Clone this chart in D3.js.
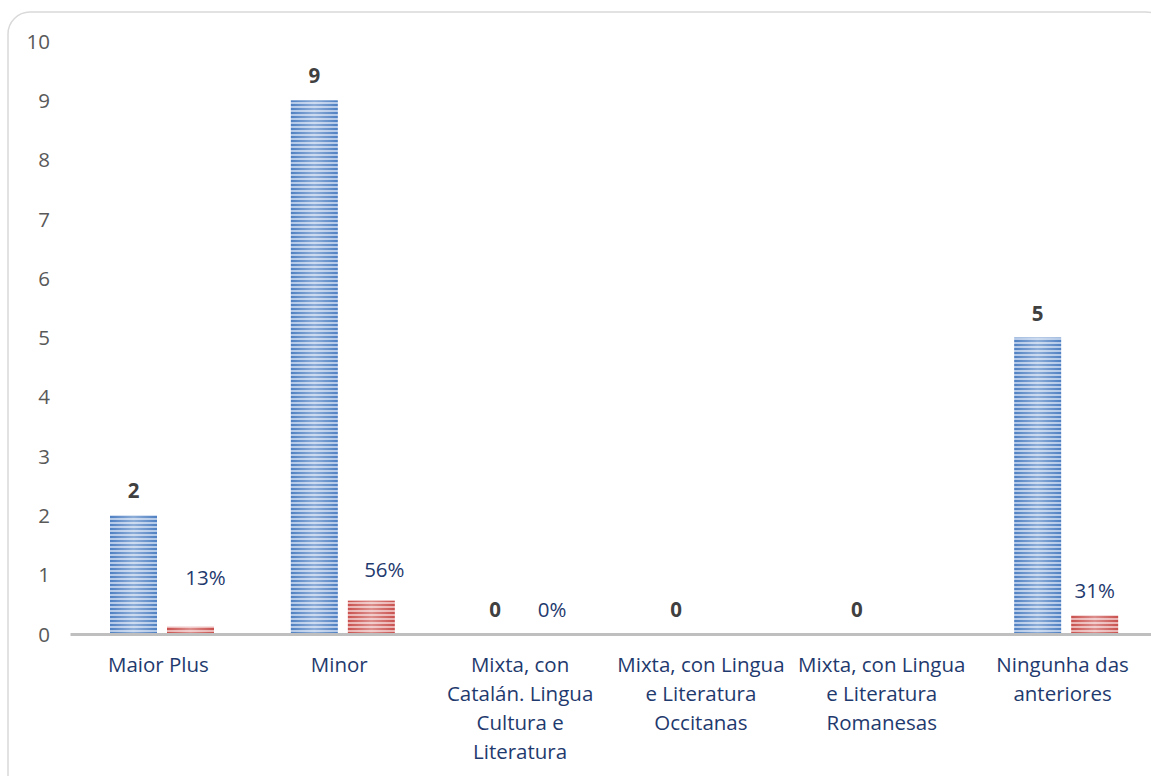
<!DOCTYPE html>
<html><head><meta charset="utf-8">
<script src="https://cdn.jsdelivr.net/npm/d3@7"></script>
<style>body{margin:0;background:#fff}svg{display:block}</style>
</head><body><svg id="c" width="1151" height="776"></svg>
<script>
const categories = [
  ["Maior Plus"],
  ["Minor"],
  ["Mixta, con", "Catalán. Lingua", "Cultura e", "Literatura"],
  ["Mixta, con Lingua", "e Literatura", "Occitanas"],
  ["Mixta, con Lingua", "e Literatura", "Romanesas"],
  ["Ningunha das", "anteriores"]
];
const counts = [2, 9, 0, 0, 0, 5];
const shares = [0.125, 0.5625, 0, null, null, 0.3125];
const shareLabels = ["13%", "56%", "0%", null, null, "31%"];
const yTicks = [0,1,2,3,4,5,6,7,8,9,10];

const svg = d3.select("#c");
const font = "'Open Sans', 'Noto Sans', sans-serif";
const fs = 20.5;

// frame
svg.append("rect").attr("x", 8).attr("y", 12).attr("width", 1160).attr("height", 800)
  .attr("rx", 22).attr("fill", "#fff").attr("stroke", "#d9d9d9").attr("stroke-width", 1.5);

const defs = svg.append("defs");
function stripes(id, light, dark) {
  const p = defs.append("pattern").attr("id", id).attr("patternUnits", "userSpaceOnUse")
    .attr("width", 8).attr("height", 4);
  p.append("rect").attr("width", 8).attr("height", 4).attr("fill", light);
  p.append("rect").attr("y", 0).attr("width", 8).attr("height", 2).attr("fill", dark);
}
stripes("pb", "#b3c9e8", "#4f80c2");
stripes("pr", "#eab3b2", "#c9514e");
function centerGrad(id) {
  const g = defs.append("linearGradient").attr("id", id);
  g.append("stop").attr("offset", "0").attr("stop-color", "#fff").attr("stop-opacity", 0);
  g.append("stop").attr("offset", "0.5").attr("stop-color", "#fff").attr("stop-opacity", 0.35);
  g.append("stop").attr("offset", "1").attr("stop-color", "#fff").attr("stop-opacity", 0);
}
centerGrad("gb");
centerGrad("gr");

const x0 = 70, x1 = 1155, yTop = 41, yBot = 634;
const x = d3.scaleBand().domain(d3.range(categories.length)).range([x0, x1]);
const y = d3.scaleLinear().domain([0, 10]).range([yBot, yTop]);
const sub = d3.scaleBand().domain([0, 1]).range([40, 144]).paddingInner(10 / 57).paddingOuter(0);

// y axis labels
const yAxis = d3.axisLeft(y).tickValues(yTicks).tickSize(0).tickPadding(0);
const ya = svg.append("g").attr("transform", "translate(50,0)").call(yAxis);
ya.select(".domain").remove();
ya.selectAll("text").attr("font-family", font).attr("font-size", fs).attr("fill", "#595959").attr("dy", "0.35em");

// bars
const g = svg.append("g");
counts.forEach((v, i) => {
  const bx = x(i) + sub(0), bw = sub.bandwidth();
  if (v > 0) {
    g.append("rect").attr("x", bx).attr("y", y(v)).attr("width", bw).attr("height", y(0) - y(v)).attr("fill", "url(#pb)");
    g.append("rect").attr("x", bx).attr("y", y(v)).attr("width", bw).attr("height", y(0) - y(v)).attr("fill", "url(#gb)");
  }
  g.append("text").attr("x", bx + bw / 2).attr("y", y(v) - 17).attr("text-anchor", "middle")
    .attr("font-family", font).attr("font-weight", "bold").attr("font-size", fs).attr("fill", "#404040").text(v);
});
const shareDx = [15, 13, 0, 0, 0, 0];
const shareDy = [-42, -24, -17, 0, 0, -17];
shares.forEach((v, i) => {
  if (v === null) return;
  const bx = x(i) + sub(1), bw = sub.bandwidth();
  if (v > 0) {
    g.append("rect").attr("x", bx).attr("y", y(v)).attr("width", bw).attr("height", y(0) - y(v)).attr("fill", "url(#pr)");
    g.append("rect").attr("x", bx).attr("y", y(v)).attr("width", bw).attr("height", y(0) - y(v)).attr("fill", "url(#gr)");
  }
  g.append("text").attr("x", bx + bw / 2 + shareDx[i]).attr("y", y(v) + shareDy[i]).attr("text-anchor", "middle")
    .attr("font-family", font).attr("font-size", fs).attr("fill", "#1f3a6e").text(shareLabels[i]);
});

// x axis line
const xAxis = d3.axisBottom(x).tickSize(0).tickFormat(() => "");
const xa = svg.append("g").attr("transform", `translate(0,${yBot})`).call(xAxis);
xa.select(".domain").attr("stroke", "#bfbfbf").attr("stroke-width", 3);

// category labels
categories.forEach((lines, i) => {
  const cx = x(i) + x.bandwidth() / 2 - 2;
  const t = svg.append("text").attr("x", cx).attr("y", 672)
    .attr("text-anchor", "middle").attr("font-family", font).attr("font-size", fs).attr("fill", "#1f3a6e");
  lines.forEach((l, k) => t.append("tspan").attr("x", cx).attr("dy", k === 0 ? 0 : 29).text(l));
});
</script></body></html>
